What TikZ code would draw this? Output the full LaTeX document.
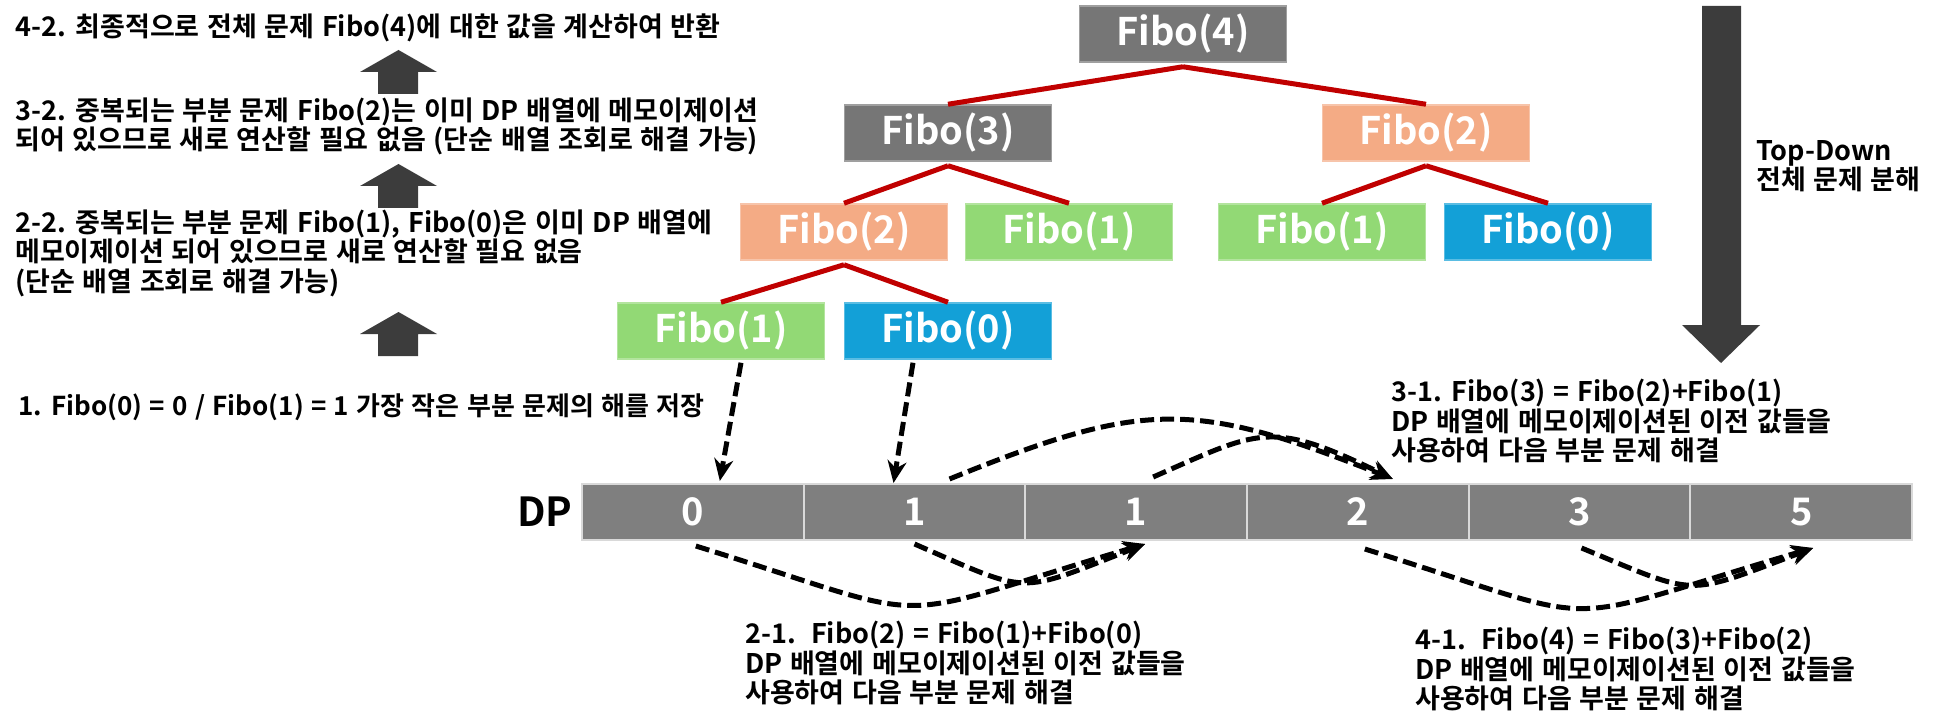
\documentclass[tikz,border=0pt]{standalone}
\usepackage{fontspec}
\setmainfont{Noto Sans CJK KR Bold}[WordSpace=1.25]
\usetikzlibrary{arrows.meta}

\definecolor{boxgray}{HTML}{767676}
\definecolor{cellgray}{HTML}{7F7F7F}
\definecolor{salmon}{HTML}{F4AB85}
\definecolor{leafgreen}{HTML}{92D975}
\definecolor{leafblue}{HTML}{13A0D7}
\definecolor{treered}{HTML}{C00000}
\definecolor{arrowgray}{HTML}{3C3C3C}

\tikzset{
  fibo/.style={fill=#1, draw=#1!70!white, line width=1.5pt, text=white, minimum width=207pt, minimum height=56pt, inner sep=0pt, font=\fontsize{38}{40}\selectfont},
  cell/.style={fill=cellgray, draw=white!85!black, line width=2pt, text=white, minimum width=221.67pt, minimum height=56pt, inner sep=0pt, font=\fontsize{38}{40}\selectfont},
  edge/.style={treered, line width=5pt},
  memo/.style={line width=5pt, dash pattern=on 14pt off 6pt, -{Stealth[length=22pt,width=19pt]}},
  note/.style={align=left, inner sep=0pt, font=\fontsize{27}{29.5}\selectfont}
}

\begin{document}
\begin{tikzpicture}[x=1pt,y=-1pt]
\useasboundingbox (0,0) rectangle (1940,727);
\node[fibo=boxgray] (f4) at (1183,34) {Fibo(4)};
\node[fibo=boxgray] (f3) at (948,133) {Fibo(3)};
\node[fibo=salmon] (f2r) at (1426,133) {Fibo(2)};
\node[fibo=salmon] (f2l) at (844,232) {Fibo(2)};
\node[fibo=leafgreen] (f1m) at (1069,232) {Fibo(1)};
\node[fibo=leafgreen] (f1r) at (1322,232) {Fibo(1)};
\node[fibo=leafblue] (f0r) at (1548,232) {Fibo(0)};
\node[fibo=leafgreen] (f1b) at (721,331) {Fibo(1)};
\node[fibo=leafblue] (f0b) at (948,331) {Fibo(0)};
\foreach \a/\b in {f4/f3,f4/f2r,f3/f2l,f3/f1m,f2l/f1b,f2l/f0b,f2r/f1r,f2r/f0r}
\draw[edge] ([yshift=-4pt]\a.south) -- (\b.north);
\node[inner sep=0pt, font=\fontsize{40}{42}\selectfont] (dp) at (545,512) {DP};
\foreach \v [count=\i] in {0,1,1,2,3,5}
\node[cell] (d\i) at ({582+221.67*(\i-0.5)},512) {\v};
\draw[memo] ([xshift=20pt,yshift=-3pt]f1b.south) -- ([xshift=27pt,yshift=2pt]d1.north);
\draw[memo] ([xshift=-35pt,yshift=-3pt]f0b.south) -- ([xshift=-21pt]d2.north);
\draw[memo] ([xshift=3pt,yshift=-5pt]d1.south) .. controls (950,625) and (872,625) .. ([xshift=9pt,yshift=-3pt]d3.south);
\draw[memo] ([yshift=-3pt]d2.south) .. controls (1032,595) and (1015,595) .. ([xshift=9pt,yshift=-3pt]d3.south);
\draw[memo] ([xshift=35pt,yshift=4pt]d2.north) .. controls (1144,400) and (1193,400) .. ([xshift=35pt,yshift=4pt]d4.north);
\draw[memo] ([xshift=17pt,yshift=6pt]d3.north) .. controls (1260,430) and (1270,419) .. ([xshift=35pt,yshift=4pt]d4.north);
\draw[memo] ([xshift=7pt,yshift=-8pt]d4.south) .. controls (1619,628) and (1541,628) .. ([xshift=12pt,yshift=-7pt]d6.south);
\draw[memo] ([xshift=2pt,yshift=-7pt]d5.south) .. controls (1700,597) and (1683,597) .. ([xshift=12pt,yshift=-7pt]d6.south);
\foreach \t in {50,164,312}
\fill[arrowgray] (398.5,\t) -- (437,\t+22) -- (418,\t+22) -- (418,\t+44) -- (378,\t+44) -- (378,\t+22) -- (360,\t+22) -- cycle;
\fill[arrowgray] (1702,6) -- (1741,6) -- (1741,325) -- (1760,325) -- (1721,363) -- (1682,325) -- (1702,325) -- cycle;
\node[note, anchor=west] (n42) at (15,28) {4-2. 최종적으로 전체 문제 Fibo(4)에 대한 값을 계산하여 반환};
\node[note, anchor=west] (n32) at (15,126.5) {3-2. 중복되는 부분 문제 Fibo(2)는 이미 DP 배열에 메모이제이션\\되어 있으므로 새로 연산할 필요 없음 (단순 배열 조회로 해결 가능)};
\node[note, anchor=west] (n22) at (15,253) {2-2. 중복되는 부분 문제 Fibo(1), Fibo(0)은 이미 DP 배열에\\메모이제이션 되어 있으므로 새로 연산할 필요 없음\\(단순 배열 조회로 해결 가능)};
\node[note, anchor=west, font=\fontsize{26}{29.5}\selectfont] (n1) at (18,407) {1. Fibo(0) = 0 / Fibo(1) = 1 가장 작은 부분 문제의 해를 저장};
\node[note, anchor=west] (td) at (1756,166) {Top-Down\\전체 문제 분해};
\node[note, anchor=west] (n31) at (1391,421) {3-1. Fibo(3) = Fibo(2)+Fibo(1)\\DP 배열에 메모이제이션된 이전 값들을\\사용하여 다음 부분 문제 해결};
\node[note, anchor=west] (n21) at (745,663) {2-1.\ \ Fibo(2) = Fibo(1)+Fibo(0)\\DP 배열에 메모이제이션된 이전 값들을\\사용하여 다음 부분 문제 해결};
\node[note, anchor=west] (n41) at (1415,669) {4-1.\ \ Fibo(4) = Fibo(3)+Fibo(2)\\DP 배열에 메모이제이션된 이전 값들을\\사용하여 다음 부분 문제 해결};
\end{tikzpicture}
\end{document}
